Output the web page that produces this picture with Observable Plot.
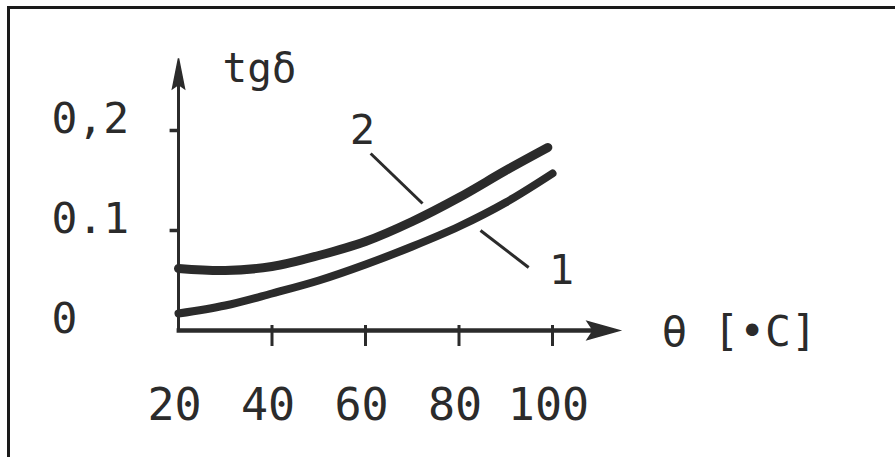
<!DOCTYPE html>
<html>
<head>
<meta charset="utf-8">
<script src="https://cdn.jsdelivr.net/npm/d3@7"></script>
<script src="https://cdn.jsdelivr.net/npm/@observablehq/plot@0.6"></script>
<style>
  html, body { margin: 0; padding: 0; background: #fff; }
  #wrap { position: relative; width: 895px; height: 457px; overflow: hidden; }
  #frame { position: absolute; left: 7px; top: 6px; width: 900px; height: 470px;
           border-top: 3px solid #1a1a1a; border-left: 3px solid #1a1a1a; pointer-events: none; }
</style>
</head>
<body>
<div id="wrap"><div id="frame"></div></div>
<script>
// Temperature θ [°C]
const temp1 = [20, 30, 40, 50, 60, 70, 80, 90, 100];
const tg1   = [0.017, 0.025, 0.037, 0.050, 0.066, 0.084, 0.104, 0.128, 0.157];
const temp2 = [20, 30, 40, 50, 60, 70, 80, 90, 99];
const tg2   = [0.062, 0.060, 0.064, 0.075, 0.089, 0.109, 0.133, 0.160, 0.183];

const xTicks = [20, 40, 60, 80, 100];
const xTickLabels = ["20", "40", "60", "80", "100"];
const yTicks = [0, 0.1, 0.2];
const yTickLabels = ["0", "0.1", "0,2"];

// curve label annotations (data coordinates)
const curveNames = ["2", "1"];
const curveLabelX = [59.4, 102.1];
const curveLabelY = [0.199, 0.059];
const leaderX1 = [61.1, 84.6];
const leaderY1 = [0.177, 0.100];
const leaderX2 = [72.2, 94.9];
const leaderY2 = [0.127, 0.063];

const series1 = temp1.map((t, i) => ({t, v: tg1[i]}));
const series2 = temp2.map((t, i) => ({t, v: tg2[i]}));
const leaders = curveNames.map((n, i) => ({x1: leaderX1[i], y1: leaderY1[i], x2: leaderX2[i], y2: leaderY2[i]}));
const curveLabels = curveNames.map((n, i) => ({n, x: curveLabelX[i], y: curveLabelY[i]}));
const xt = xTicks.map((v, i) => ({v, label: xTickLabels[i]}));
const yt = yTicks.map((v, i) => ({v, label: yTickLabels[i]}));

const ink = "#2b2b2b";
const font = "DejaVu Sans Mono";

// arrowhead shapes (tip at the anchor point)
const headUp = {draw(ctx) { ctx.moveTo(0, 0); ctx.lineTo(-6, 30); ctx.lineTo(0, 26); ctx.lineTo(6, 30); ctx.closePath(); }};
const headRight = {draw(ctx) { ctx.moveTo(0, 0); ctx.lineTo(-32, -9); ctx.lineTo(-26, 0); ctx.lineTo(-32, 9); ctx.closePath(); }};

const chart = Plot.plot({
  width: 895,
  height: 457,
  marginLeft: 178,
  marginRight: 343,
  marginTop: 130,
  marginBottom: 127,
  clip: false,
  x: {domain: [20, 100], axis: null},
  y: {domain: [0, 0.2], axis: null},
  style: {fontFamily: font, background: "transparent", overflow: "visible"},
  marks: [
    // axes
    Plot.ruleX([20], {y1: -0.001, y2: 0.26, stroke: ink, strokeWidth: 3}),
    Plot.ruleY([0], {x1: 19.7, x2: 110, stroke: ink, strokeWidth: 4.5}),
    Plot.dot([{}], {x: 20, y: 0.272, symbol: headUp, fill: ink, stroke: ink, strokeWidth: 1.5, r: 5}),
    Plot.dot([{}], {x: 114.3, y: 0, symbol: headRight, fill: ink, stroke: ink, strokeWidth: 1.5, r: 5}),
    // x ticks (downward)
    Plot.ruleX(xTicks.slice(1), {y1: 0.005, y2: -0.016, stroke: ink, strokeWidth: 3}),
    // y ticks (leftward)
    Plot.ruleY(yTicks.slice(1), {x1: 18.2, x2: 20, stroke: ink, strokeWidth: 3.5}),
    // tick labels
    Plot.text(xt, {x: "v", y: 0, text: "label", dy: 75, dx: -4, fontSize: 45, fill: ink, textAnchor: "middle"}),
    Plot.text(yt, {y: "v", frameAnchor: "left", text: "label", dx: -127, dy: -11, fontSize: 43, fill: ink, textAnchor: "start"}),
    // axis titles
    Plot.text(["tgδ"], {frameAnchor: "left", y: 0.262, dx: 44, fontSize: 41, fill: ink, textAnchor: "start", text: d => d}),
    Plot.text(["θ [•C]"], {frameAnchor: "left", y: 0.0, dx: 483, dy: 2, fontSize: 43, fill: ink, textAnchor: "start", text: d => d}),
    // curves
    Plot.line(series2, {x: "t", y: "v", stroke: ink, strokeWidth: 9, curve: "catmull-rom"}),
    Plot.line(series1, {x: "t", y: "v", stroke: ink, strokeWidth: 8, curve: "catmull-rom"}),
    // leaders and curve labels
    Plot.link(leaders, {x1: "x1", y1: "y1", x2: "x2", y2: "y2", stroke: ink, strokeWidth: 3}),
    Plot.text(curveLabels, {x: "x", y: "y", text: "n", fontSize: 40, fill: ink, fontFamily: "DejaVu Sans"})
  ]
});
document.getElementById("wrap").prepend(chart);
</script>
</body>
</html>
